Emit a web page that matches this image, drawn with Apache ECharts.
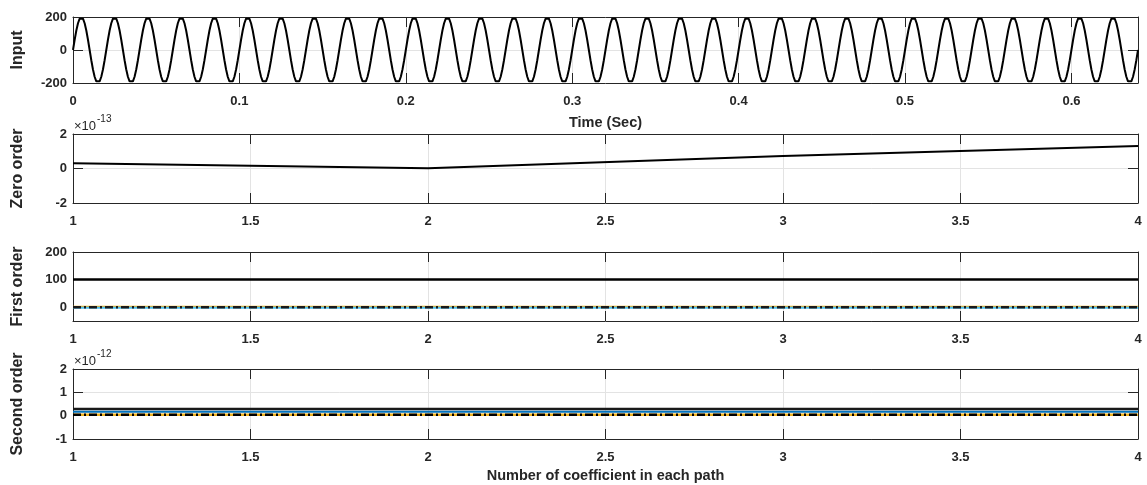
<!DOCTYPE html>
<html>
<head>
<meta charset="utf-8">
<script src="https://cdn.jsdelivr.net/npm/echarts@6/dist/echarts.min.js"></script>
<style>
  html, body { margin: 0; padding: 0; background: #fff; }
  #chart { width: 1147px; height: 485px; }
</style>
</head>
<body>
<div id="chart"></div>
<script>
// ---- Input signal: one 50 Hz period (20 samples, 1 ms apart), repeated over 0.64 s ----
const inputPeriod = [0, 62, 118, 162, 190, 200, 190, 162, 118, 62,
                     0, -62, -118, -162, -190, -200, -190, -162, -118, -62];
const inputStep = 0.001;           // seconds between samples
const inputCycles = 32;            // 32 periods of 20 ms = 0.64 s
const timeTicks = { min: 0, max: 0.64, interval: 0.1 };

// ---- Coefficient sweep ----
const coeffs = [1, 2, 3, 4];

// Zero order output (mantissa, scale 1e-13)
const zeroExp = -13;
const zeroOrder = [0.3, 0.02, 0.72, 1.3];

// First order outputs
const firstMain  = [100, 100, 100, 100];
const firstYel   = [2, 2, 2, 2];
const firstCyan  = [-2, -2, -2, -2];
const firstDash  = [0, 0, 0, 0];

// Second order outputs (mantissa, scale 1e-12)
const secondExp = -12;
const secondMain = [0.29, 0.29, 0.29, 0.29];
const secondBlue = [0.17, 0.17, 0.17, 0.17];
const secondYel  = [0.04, 0.04, 0.04, 0.04];
const secondDash = [0.04, 0.04, 0.04, 0.04];

// Tick values
const inputYTicks  = { min: -200, max: 200, interval: 200 };
const zeroYTicks   = { min: -2, max: 2, interval: 2 };
const firstYTicks  = { min: -50, max: 200, interval: 50, shown: [0, 100, 200] };
const secondYTicks = { min: -1, max: 2, interval: 1 };
const coeffTicks   = { min: 1, max: 4, interval: 0.5 };

const FONT = "'Liberation Sans', Arial, Helvetica, sans-serif";
const INK = '#262626';
const GRIDC = '#e3e3e3';
const BLACK = '#000000';

const inputData = [];
for (let c = 0; c < inputCycles; c++) {
  for (let k = 0; k < inputPeriod.length; k++) {
    inputData.push([(c * inputPeriod.length + k) * inputStep, inputPeriod[k]]);
  }
}
inputData.push([inputCycles * inputPeriod.length * inputStep, inputPeriod[0]]);

const pair = (ys) => coeffs.map((x, i) => [x, ys[i]]);

const panels = [
  { top: 17,  height: 66 },
  { top: 134, height: 69 },
  { top: 252, height: 69 },
  { top: 369, height: 70 }
];

const grids = panels.map(p => ({
  left: 73, right: 9, top: p.top, height: p.height,
  show: false, containLabel: false
}));

const labelStyle = { color: INK, fontFamily: FONT, fontWeight: 'bold', fontSize: 13 };
const nameStyle = { color: INK, fontFamily: FONT, fontWeight: 'bold', fontSize: 14.5 };
const yNameStyle = { color: INK, fontFamily: FONT, fontWeight: 'bold', fontSize: 16 };

function xPair(gi, ticks, fmt, name, nameGap) {
  const bottom = {
    type: 'value', gridIndex: gi, position: 'bottom',
    min: ticks.min, max: ticks.max, interval: ticks.interval,
    axisLine: { show: true, onZero: false, lineStyle: { color: INK, width: 1 } },
    axisTick: { show: true, inside: true, length: 10, lineStyle: { color: INK } },
    axisLabel: { show: true, margin: 12, showMaxLabel: ticks.max % ticks.interval === 0 ? true : false,
                 formatter: fmt, ...labelStyle },
    splitLine: { show: true, lineStyle: { color: GRIDC, width: 1 } }
  };
  if (name) {
    Object.assign(bottom, { name, nameLocation: 'middle', nameGap, nameTextStyle: nameStyle });
  }
  const top = {
    type: 'value', gridIndex: gi, position: 'top',
    min: ticks.min, max: ticks.max, interval: ticks.interval,
    axisLine: { show: true, onZero: false, lineStyle: { color: INK, width: 1 } },
    axisTick: { show: true, inside: true, length: 10, lineStyle: { color: INK } },
    axisLabel: { show: false },
    splitLine: { show: false }
  };
  return [bottom, top];
}

function yPair(gi, ticks, name, nameGap) {
  const common = {
    type: 'value', gridIndex: gi,
    min: ticks.min, max: ticks.max, interval: ticks.interval
  };
  const left = {
    ...common, position: 'left',
    name, nameLocation: 'middle', nameGap, nameTextStyle: yNameStyle,
    axisLine: { show: true, onZero: false, lineStyle: { color: INK, width: 1 } },
    axisTick: { show: true, inside: true, length: 10, lineStyle: { color: INK } },
    axisLabel: { show: true, margin: 6, ...labelStyle },
    splitLine: { show: true, lineStyle: { color: GRIDC, width: 1 } }
  };
  const right = {
    ...common, position: 'right',
    axisLine: { show: true, onZero: false, lineStyle: { color: INK, width: 1 } },
    axisTick: { show: true, inside: true, length: 10, lineStyle: { color: INK } },
    axisLabel: { show: false },
    splitLine: { show: false }
  };
  if (ticks.shown) {
    // only selected values carry labels, ticks and grid lines
    left.axisLabel.formatter = v => (ticks.shown.indexOf(v) >= 0 ? String(v) : '');
    left.axisTick.customValues = ticks.shown;
    right.axisTick.customValues = ticks.shown;
    const colors = [];
    for (let v = ticks.min; v <= ticks.max + 1e-9; v += ticks.interval) {
      colors.push(ticks.shown.indexOf(v) >= 0 ? GRIDC : 'rgba(0,0,0,0)');
    }
    left.splitLine.lineStyle.color = colors;
  }
  return [left, right];
}

const timeFmt = v => (v === 0 ? '0' : String(Math.round(v * 10) / 10));
const coeffFmt = v => String(v);

const xAxes = [
  ...xPair(0, timeTicks, timeFmt, 'Time (Sec)', 32),
  ...xPair(1, coeffTicks, coeffFmt),
  ...xPair(2, coeffTicks, coeffFmt),
  ...xPair(3, coeffTicks, coeffFmt, 'Number of coefficient in each path', 29)
];
const yAxes = [
  ...yPair(0, inputYTicks, 'Input', 47),
  ...yPair(1, zeroYTicks, 'Zero order', 47),
  ...yPair(2, firstYTicks, 'First order', 47),
  ...yPair(3, secondYTicks, 'Second order', 47)
];

function line(panel, data, color, width, type, z) {
  return {
    type: 'line', xAxisIndex: panel * 2, yAxisIndex: panel * 2,
    data, showSymbol: false, symbol: 'none', silent: true, animation: false,
    lineStyle: { color, width, type: type || 'solid' }, z: z || 2
  };
}
const dashDot = [8, 3, 2, 3];

const series = [
  line(0, inputData, BLACK, 2),
  line(1, pair(zeroOrder), BLACK, 2),
  line(2, pair(firstMain), BLACK, 2.5),
  line(2, pair(firstYel), '#EDB120', 2, 'solid', 2),
  line(2, pair(firstCyan), '#4DBEEE', 2, 'solid', 2),
  line(2, pair(firstDash), '#1a1a1a', 2.5, dashDot, 3),
  line(3, pair(secondMain), '#1a1a1a', 2.5),
  line(3, pair(secondBlue), '#0072BD', 2),
  line(3, pair(secondYel), '#EDB120', 2.5, 'solid', 2),
  line(3, pair(secondDash), BLACK, 2.5, dashDot, 3)
];

function exponent(top, exp) {
  return [
    { type: 'text', left: 74, top: top, silent: true,
      style: { text: '\u00d710', fill: INK, font: '13px ' + FONT } },
    { type: 'text', left: 97, top: top - 6, silent: true,
      style: { text: String(exp), fill: INK, font: '10px ' + FONT } }
  ];
}

const chart = echarts.init(document.getElementById('chart'), null, { renderer: 'canvas' });
chart.setOption({
  backgroundColor: '#ffffff',
  animation: false,
  grid: grids,
  xAxis: xAxes,
  yAxis: yAxes,
  series,
  graphic: [...exponent(120, zeroExp), ...exponent(355, secondExp)]
});
</script>
</body>
</html>
